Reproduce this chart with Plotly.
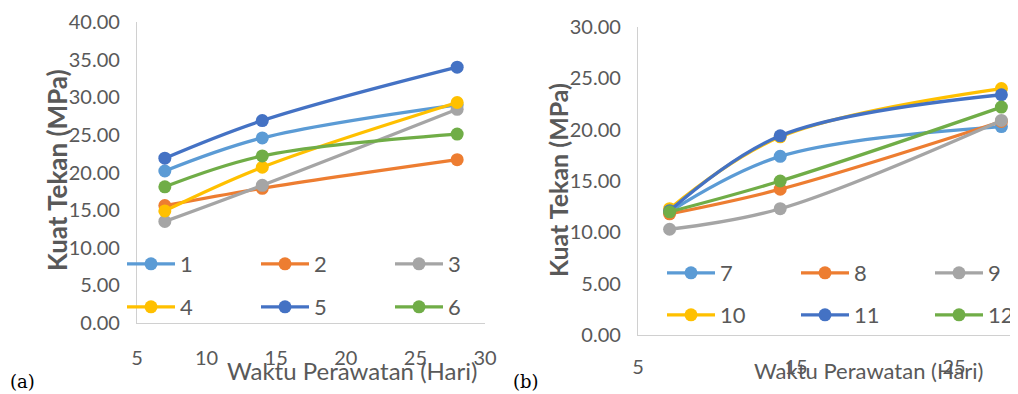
import plotly.graph_objects as go

# ---------------- data ----------------
days = [7, 14, 28]

left_names = ["1", "2", "3", "4", "5", "6"]
left_values = {
    "1": [20.2, 24.6, 29.0],
    "2": [15.6, 17.9, 21.7],
    "3": [13.5, 18.3, 28.4],
    "4": [14.9, 20.7, 29.3],
    "5": [21.9, 26.9, 34.0],
    "6": [18.1, 22.2, 25.1],
}

right_names = ["7", "8", "9", "10", "11", "12"]
right_values = {
    "7": [12.0, 17.4, 20.3],
    "8": [11.8, 14.2, 20.8],
    "9": [10.3, 12.3, 20.9],
    "10": [12.3, 19.3, 24.0],
    "11": [12.1, 19.4, 23.4],
    "12": [12.0, 15.0, 22.2],
}

left_yticks = [0, 5, 10, 15, 20, 25, 30, 35, 40]
right_yticks = [0, 5, 10, 15, 20, 25, 30]
left_xticks = [5, 10, 15, 20, 25, 30]
right_xticks = [5, 15, 25]

x_title = "Waktu Perawatan (Hari)"
y_title = "Kuat Tekan (MPa)"

# ---------------- style ----------------
colors = ["#5B9BD5", "#ED7D31", "#A5A5A5", "#FFC000", "#4472C4", "#70AD47"]
TXT = "#595959"
AXC = "#D0D0D0"
FONT = "Lato"

fig = go.Figure()

left_legends = ["legend", "legend", "legend", "legend2", "legend2", "legend2"]
right_legends = ["legend3", "legend3", "legend3", "legend4", "legend4", "legend4"]

for i, name in enumerate(left_names):
    fig.add_trace(go.Scatter(
        x=days, y=left_values[name], name=name, mode="lines+markers",
        line=dict(color=colors[i], width=3.3, shape="spline"),
        marker=dict(color=colors[i], size=13),
        xaxis="x", yaxis="y", legend=left_legends[i],
    ))

for i, name in enumerate(right_names):
    fig.add_trace(go.Scatter(
        x=days, y=right_values[name], name=name, mode="lines+markers",
        line=dict(color=colors[i], width=3.3, shape="spline"),
        marker=dict(color=colors[i], size=13),
        xaxis="x2", yaxis="y2", legend=right_legends[i],
    ))

W, H = 1018, 394
OFF = 8  # page body margin of the browser


def px(x):
    return (x - OFF) / W


def py(y):
    return (H - (y - OFF)) / H


tickfont = dict(family=FONT, size=20, color=TXT)

xaxis_common = dict(showgrid=False, zeroline=False, showline=True, linecolor=AXC,
                    linewidth=1.3, ticks="", tickfont=tickfont, tickmode="array")
yaxis_common = dict(showgrid=False, zeroline=False, showline=True, linecolor=AXC,
                    linewidth=1.3, ticks="", tickfont=tickfont, tickmode="array",
                    tickformat=".2f")

legend_common = dict(orientation="h", entrywidth=71, entrywidthmode="pixels",
                     bgcolor="rgba(0,0,0,0)", font=dict(family=FONT, size=22, color=TXT),
                     xanchor="left", yanchor="middle", itemwidth=48,
                     itemclick=False, itemdoubleclick=False, tracegroupgap=0)

fig.update_layout(
    width=W, height=H,
    margin=dict(l=0, r=0, t=0, b=0, autoexpand=False),
    paper_bgcolor="white", plot_bgcolor="white",
    showlegend=True,
    xaxis=dict(domain=[px(137), px(485)], range=[5, 30], tickvals=left_xticks,
               ticklabelstandoff=17, anchor="y", **xaxis_common),
    yaxis=dict(domain=[py(323), py(22)], range=[0, 40], tickvals=left_yticks,
               ticklabelstandoff=12, anchor="x", **yaxis_common),
    xaxis2=dict(domain=[px(638), px(1017)], range=[5, 5 + (1017 - 638) / 15.8],
                tickvals=right_xticks, ticklabelstandoff=14, anchor="y2", **xaxis_common),
    yaxis2=dict(domain=[py(335), py(27)], range=[0, 30], tickvals=right_yticks,
                ticklabelstandoff=12, anchor="x2", **yaxis_common),
    legend=dict(x=px(122), y=py(264), **legend_common),
    legend2=dict(x=px(122), y=py(307), **legend_common),
    legend3=dict(x=px(662), y=py(273), **legend_common),
    legend4=dict(x=px(662), y=py(315), **legend_common),
)

annotations = [
    dict(text=x_title, x=px(352), y=py(370), xanchor="center",
         font=dict(family=FONT, size=24, color=TXT)),
    dict(text=x_title, x=px(868), y=py(370), xanchor="center",
         font=dict(family=FONT, size=22, color=TXT)),
    dict(text="<b>" + y_title + "</b>", x=px(57), y=py(170), textangle=-90, xanchor="center",
         font=dict(family=FONT, size=26, color=TXT)),
    dict(text="<b>" + y_title + "</b>", x=px(558), y=py(180), textangle=-90, xanchor="center",
         font=dict(family=FONT, size=25, color=TXT)),
    dict(text="(a)", x=px(8), y=py(381), xanchor="left",
         font=dict(family="DejaVu Serif", size=18, color="#000000")),
    dict(text="(b)", x=px(511), y=py(381), xanchor="left",
         font=dict(family="DejaVu Serif", size=18, color="#000000")),
]
for a in annotations:
    fig.add_annotation(xref="paper", yref="paper", showarrow=False,
                       yanchor="middle", **a)

fig.write_html("out.html")
